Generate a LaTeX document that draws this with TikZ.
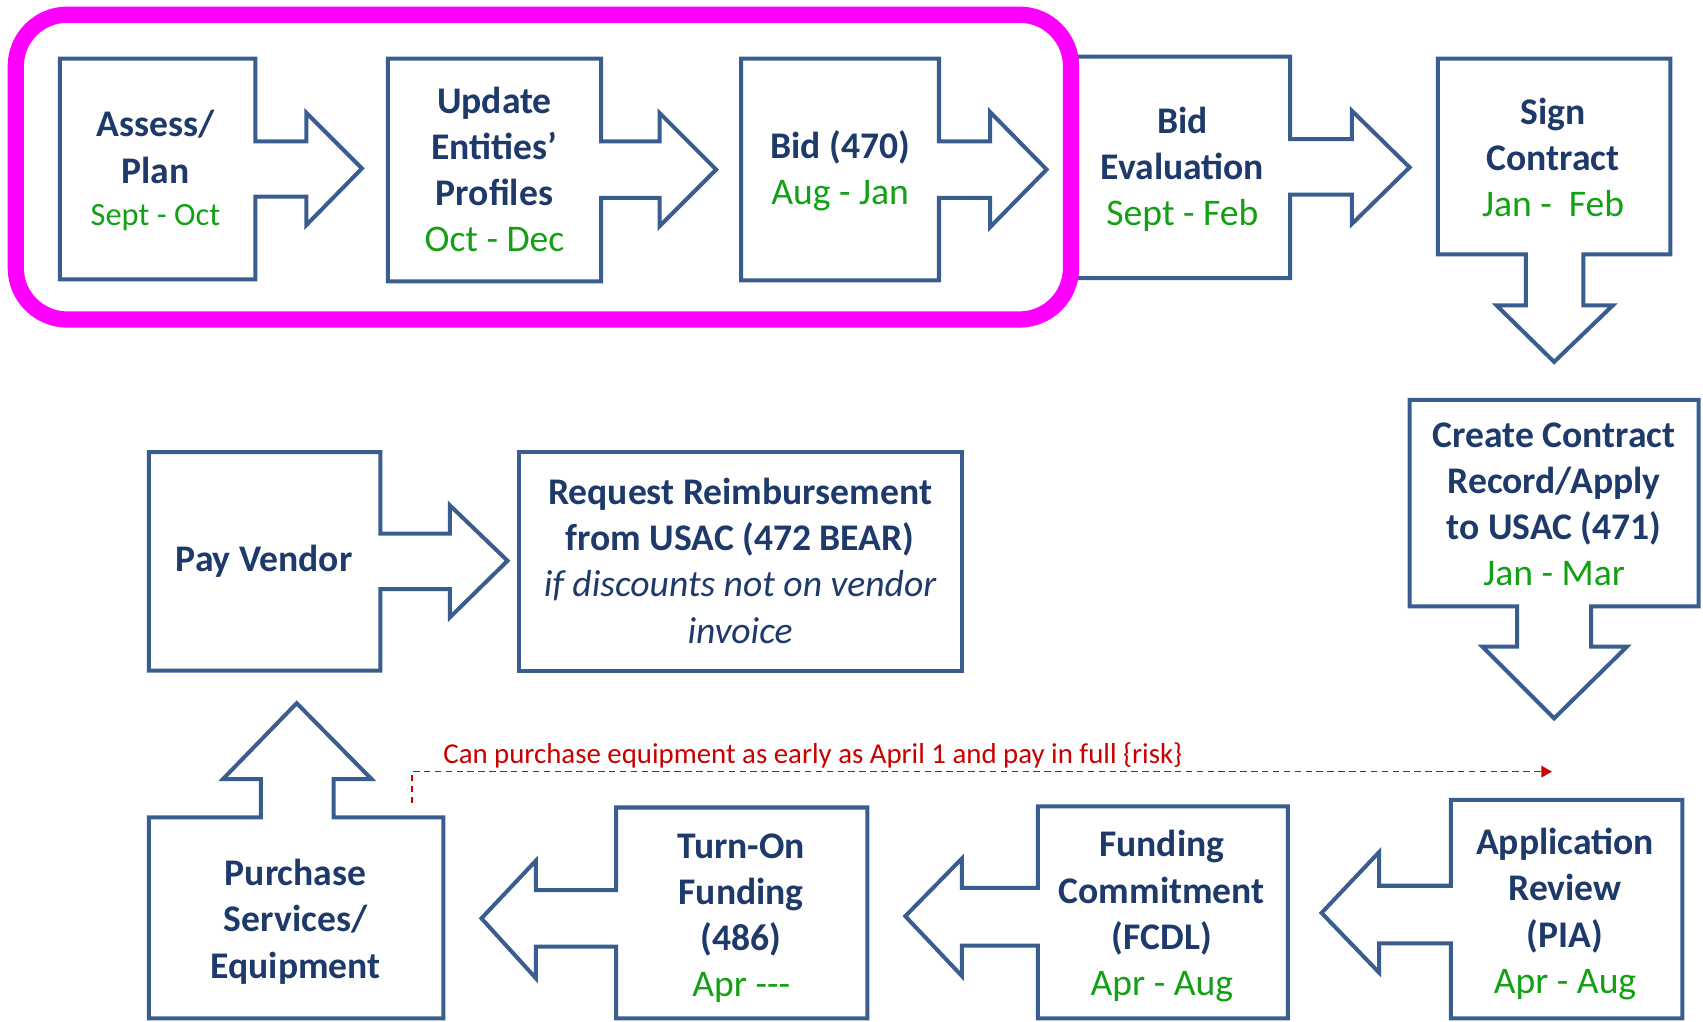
\documentclass[tikz,border=0pt]{standalone}
\usepackage{fontspec}
\setmainfont{Carlito}
\usetikzlibrary{arrows.meta}
\definecolor{navy}{RGB}{30,58,106}
\definecolor{boxblue}{RGB}{58,93,143}
\definecolor{dgreen}{RGB}{20,160,20}
\definecolor{riskred}{RGB}{200,0,0}
\definecolor{hilite}{RGB}{255,0,255}
\newcommand\dategreen[1]{{\mdseries\color{dgreen}#1}}
\newcommand\ital[1]{{\mdseries\itshape #1}}
\begin{document}
\begin{tikzpicture}[x=0.02cm,y=-0.02cm,
  boxline/.style={draw=boxblue,line width=2.1pt,line join=miter,fill=white},
  lbl/.style={align=center,text=navy,font=\fontsize{19.7}{24.2}\selectfont\bfseries,inner sep=0pt},
  risklbl/.style={text=riskred,font=\fontsize{15.1}{17}\selectfont,inner sep=0pt},
  riskline/.style={draw=riskred,line width=0.8pt,dash pattern=on 3.4pt off 2.3pt,-{Triangle[length=5.5pt,width=6pt]}},
  frame/.style={draw=hilite,line width=8.5pt,rounded corners=27pt}
]
\useasboundingbox (0,0) rectangle (1567,940);

% top row
\draw[boxline] (55,54) -- (235,54) -- (235,130) -- (282,130) -- (282,104) -- (333,155) -- (282,207) -- (282,181) -- (235,181) -- (235,257) -- (55,257) -- cycle;
\draw[boxline] (357,54) -- (553,54) -- (553,130) -- (607,130) -- (607,104) -- (659,156) -- (607,208) -- (607,182) -- (553,182) -- (553,259) -- (357,259) -- cycle;
\draw[boxline] (682,54) -- (864,54) -- (864,130) -- (911,130) -- (911,103) -- (963,156) -- (911,209) -- (911,182) -- (864,182) -- (864,258) -- (682,258) -- cycle;
\draw[boxline] (985,52) -- (1187,52) -- (1187,128) -- (1244,128) -- (1244,102) -- (1297,154) -- (1244,206) -- (1244,179) -- (1187,179) -- (1187,256) -- (985,256) -- cycle;
\draw[boxline] (1323,54) -- (1537,54) -- (1537,234) -- (1457,234) -- (1457,281) -- (1484,281) -- (1430,333) -- (1377,281) -- (1404,281) -- (1404,234) -- (1323,234) -- cycle;

% right column
\draw[boxline] (1297,368) -- (1563,368) -- (1563,558) -- (1464,558) -- (1464,595) -- (1497,595) -- (1430,661) -- (1364,595) -- (1396,595) -- (1396,558) -- (1297,558) -- cycle;

% bottom row
\draw[boxline] (1335,736) -- (1548,736) -- (1548,937) -- (1335,937) -- (1335,868) -- (1269,868) -- (1269,895) -- (1216,840) -- (1269,784) -- (1269,815) -- (1335,815) -- cycle;
\draw[boxline] (955,742) -- (1185,742) -- (1185,937) -- (955,937) -- (955,870) -- (885,870) -- (885,898) -- (833,843) -- (885,790) -- (885,817) -- (955,817) -- cycle;
\draw[boxline] (567,743) -- (798,743) -- (798,937) -- (567,937) -- (567,871) -- (493,871) -- (493,900) -- (443,845) -- (493,792) -- (493,819) -- (567,819) -- cycle;
\draw[boxline] (137,752) -- (240,752) -- (240,717) -- (205,717) -- (273,647) -- (342,717) -- (307,717) -- (307,752) -- (408,752) -- (408,937) -- (137,937) -- cycle;

% middle row
\draw[boxline] (137,416) -- (350,416) -- (350,491) -- (414,491) -- (414,465) -- (467,516) -- (414,568) -- (414,542) -- (350,542) -- (350,617) -- (137,617) -- cycle;
\draw[boxline] (478,416) rectangle (885,617);

% highlight frame
\draw[frame] (14.5,13.5) rectangle (985.5,294);

% labels
\node[lbl] (t1) at (143,157) {Assess/\\Plan\\[-2pt]{\fontsize{17}{20}\selectfont\dategreen{Sept - Oct}}};
\node[lbl] (t2) at (455,156) {Update\\Entities’\\Profiles\\\dategreen{Oct - Dec}};
\node[lbl] (t3) at (773,157) {Bid (470)\\\dategreen{Aug - Jan}};
\node[lbl] (t4) at (1088,156) {Bid\\Evaluation\\\dategreen{Sept - Feb}};
\node[lbl] (t5) at (1429,145) {Sign\\Contract\\\dategreen{Jan - \ Feb}};
\node[lbl] (t6) at (1430,464) {Create Contract\\Record/Apply\\to USAC (471)\\\dategreen{Jan - Mar}};
\node[lbl] (t7) at (1440,841) {Application\\Review\\(PIA)\\\dategreen{Apr - Aug}};
\node[lbl] (t8) at (1069,843) {Funding\\Commitment\\(FCDL)\\\dategreen{Apr - Aug}};
\node[lbl] (t9) at (682,845) {Turn-On\\Funding\\(486)\\\dategreen{Apr -{}-{}-}};
\node[lbl] (t10) at (272,848) {Purchase\\Services/\\Equipment};
\node[lbl] (t11) at (243,516) {Pay Vendor};
\node[lbl] (t12) at (681,516) {Request Reimbursement\\from USAC (472 BEAR)\\\ital{if discounts not on vendor}\\\ital{invoice}};

% risk note
\coordinate (riskstart) at (379,739);
\coordinate (riskend) at (1428,710);
\draw[riskline] (riskstart) |- (riskend);
\node[risklbl] (risk) at (748,695) {Can purchase equipment as early as April 1 and pay in full \{risk\}};
\end{tikzpicture}
\end{document}
